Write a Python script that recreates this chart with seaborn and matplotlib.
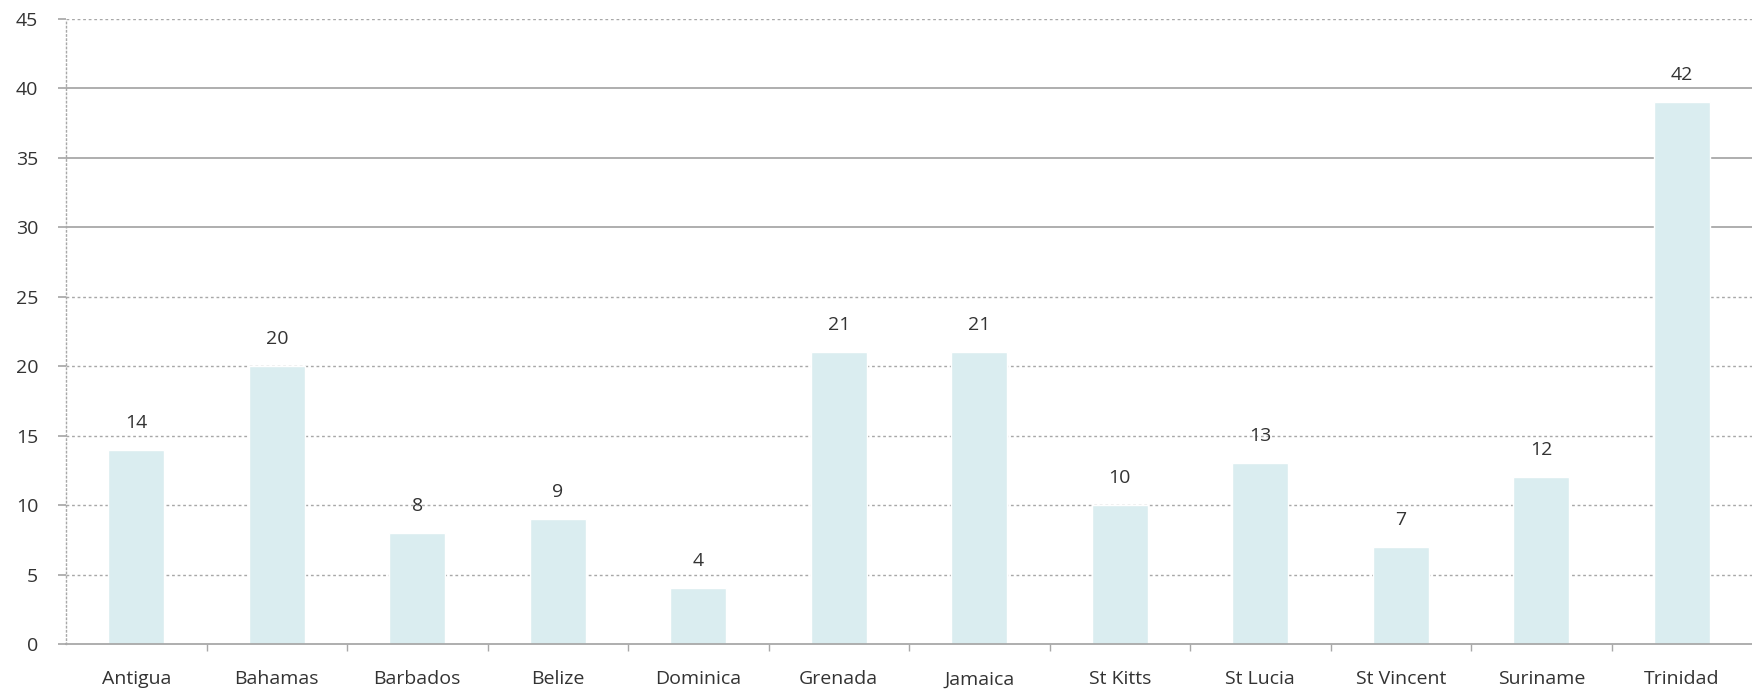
import matplotlib
matplotlib.use("Agg")
import matplotlib.pyplot as plt
import seaborn as sns
import pandas as pd

# ===============================
# Data
# ===============================
COUNTRIES = ["Antigua", "Bahamas", "Barbados", "Belize", "Dominica", "Grenada",
             "Jamaica", "St Kitts", "St Lucia", "St Vincent", "Suriname", "Trinidad"]
BAR_HEIGHTS = [14, 20, 8, 9, 4, 21, 21, 10, 13, 7, 12, 39]
BAR_LABELS = ["14", "20", "8", "9", "4", "21", "21", "10", "13", "7", "12", "42"]
Y_TICKS = [0, 5, 10, 15, 20, 25, 30, 35, 40, 45]
SOLID_GRID = [30, 35, 40]

BAR_COLOR = "#daedf0"
GRID_COLOR = "#a8a8a8"
TEXT_COLOR = "#333333"

sns.set_theme(style="white")
plt.rcParams["font.family"] = ["Open Sans", "DejaVu Sans"]

df = pd.DataFrame({"country": COUNTRIES, "value": BAR_HEIGHTS})

fig = plt.figure(figsize=(17.52, 6.94), dpi=100)
ax = fig.add_axes([0.0377, 0.072, 0.9623, 0.9006])

# gridlines first so the bars sit on top
for t in Y_TICKS:
    if t in SOLID_GRID:
        ax.axhline(t, color=GRID_COLOR, lw=1.3, ls="-", zorder=0)
    elif t > 0:
        ax.axhline(t, color=GRID_COLOR, lw=1.0, ls=(0, (2, 2)), zorder=0)

sns.barplot(data=df, x="country", y="value", color=BAR_COLOR, width=0.4,
            saturation=1, ax=ax, zorder=2)

for i, lab in enumerate(BAR_LABELS):
    ax.text(i, BAR_HEIGHTS[i] + 1.3, lab, ha="center", va="bottom",
            fontsize=14, color=TEXT_COLOR)

ax.set_xlim(-0.5, len(COUNTRIES) - 0.5)
ax.set_ylim(0, 45)
ax.set_yticks(Y_TICKS)
ax.set_xlabel("")
ax.set_ylabel("")

# category boundaries get the small tick marks, labels sit at centres
ax.set_xticks([i + 0.5 for i in range(len(COUNTRIES) - 1)], minor=True)
ax.tick_params(axis="x", which="major", length=0, pad=19, labelsize=14, labelcolor=TEXT_COLOR)
ax.tick_params(axis="x", which="minor", length=5, color=GRID_COLOR, bottom=True)
ax.tick_params(axis="y", length=6, color=GRID_COLOR, left=True, labelsize=14,
               labelcolor=TEXT_COLOR, pad=14)

for side in ["top", "right"]:
    ax.spines[side].set_visible(False)
ax.spines["bottom"].set_color(GRID_COLOR)
ax.spines["bottom"].set_linewidth(1.3)
ax.spines["left"].set_color(GRID_COLOR)
ax.spines["left"].set_linestyle((0, (1, 2)))
ax.spines["left"].set_linewidth(1.0)

fig.savefig("out.png", dpi=100)
